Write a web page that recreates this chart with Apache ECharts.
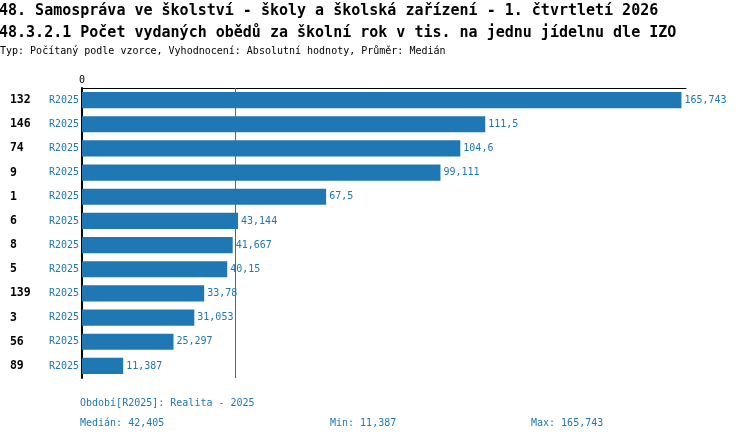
<!DOCTYPE html>
<html>
<head>
<meta charset="utf-8">
<script src="https://cdn.jsdelivr.net/npm/echarts@6/dist/echarts.min.js"></script>
<style>html,body{margin:0;padding:0;background:#fff;}#c{width:750px;height:440px;}</style>
</head>
<body>
<div id="c"></div>
<script>
var categories = ['132','146','74','9','1','6','8','5','139','3','56','89'];
var periodLabel = 'R2025';
var values = [165.743, 111.5, 104.6, 99.111, 67.5, 43.144, 41.667, 40.15, 33.78, 31.053, 25.297, 11.387];
var median = 42.405;
var minVal = 11.387;
var maxVal = 165.743;

var BLUE = '#1f77b4';
var FONT = '"DejaVu Sans Mono", "Liberation Mono", monospace';
function fmt(v){ return String(v).replace('.', ','); }

var chart = echarts.init(document.getElementById('c'), null, {renderer:'canvas'});
chart.setOption({
  animation: false,
  textStyle: {fontFamily: FONT},
  title: [
    {text: '48. Samospráva ve školství - školy a školská zařízení - 1. čtvrtletí 2026', left: -1, top: 4, padding: 0,
     textStyle: {fontFamily: FONT, fontSize: 15, fontWeight: 'bold', color: '#000'}},
    {text: '48.3.2.1 Počet vydaných obědů za školní rok v tis. na jednu jídelnu dle IZO', left: -1, top: 26, padding: 0,
     textStyle: {fontFamily: FONT, fontSize: 15, fontWeight: 'bold', color: '#000'}},
    {text: 'Typ: Počítaný podle vzorce, Vyhodnocení: Absolutní hodnoty, Průměr: Medián', left: 0, top: 46, padding: 0,
     textStyle: {fontFamily: FONT, fontSize: 10, fontWeight: 'normal', color: '#000'}},
    {text: 'Období[' + periodLabel + ']: Realita - 2025', left: 80, top: 398, padding: 0,
     textStyle: {fontFamily: FONT, fontSize: 10, fontWeight: 'normal', color: BLUE}},
    {text: 'Medián: ' + fmt(median), left: 80, top: 418, padding: 0,
     textStyle: {fontFamily: FONT, fontSize: 10, fontWeight: 'normal', color: BLUE}},
    {text: 'Min: ' + fmt(minVal), left: 330, top: 418, padding: 0,
     textStyle: {fontFamily: FONT, fontSize: 10, fontWeight: 'normal', color: BLUE}},
    {text: 'Max: ' + fmt(maxVal), left: 531, top: 418, padding: 0,
     textStyle: {fontFamily: FONT, fontSize: 10, fontWeight: 'normal', color: BLUE}}
  ],
  grid: {left: 82, top: 88, width: 604, height: 290, containLabel: false},
  xAxis: {
    type: 'value', position: 'top', min: 0, max: 167, interval: 167,
    axisLine: {show: true, lineStyle: {color: '#000', width: 1}},
    axisTick: {show: false},
    splitLine: {show: false},
    axisLabel: {margin: 3, fontSize: 10, color: '#000', fontFamily: FONT,
      formatter: function(v){ return v === 0 ? '0' : ''; }}
  },
  yAxis: {
    type: 'category', inverse: true, data: categories,
    axisLine: {show: true, lineStyle: {color: '#000', width: 2}},
    axisTick: {show: false},
    axisLabel: {margin: 3, fontFamily: FONT,
      formatter: function(v){ return '{n|' + v + '}{r|' + periodLabel + '}'; },
      rich: {
        n: {width: 39, align: 'left', fontWeight: 'bold', fontSize: 11.5, color: '#000', fontFamily: FONT},
        r: {fontSize: 10, color: BLUE, fontFamily: FONT}
      }}
  },
  series: [{
    type: 'bar', data: values, barCategoryGap: '33%',
    itemStyle: {color: BLUE},
    label: {show: true, position: 'right', distance: 3, fontSize: 10, color: BLUE, fontFamily: FONT,
      formatter: function(p){ return fmt(p.value); }},
    markLine: {
      silent: true, symbol: 'none', animation: false,
      label: {show: false},
      itemStyle: {color: BLUE},
      lineStyle: {color: BLUE, width: 1, type: 'solid', opacity: 1},
      data: [{xAxis: median, lineStyle: {color: BLUE}}]
    }
  }]
});
</script>
</body>
</html>
